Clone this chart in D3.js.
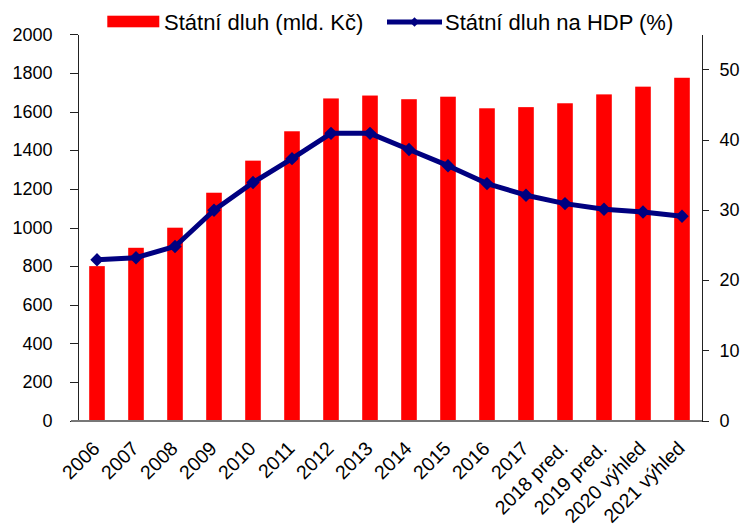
<!DOCTYPE html>
<html>
<head>
<meta charset="utf-8">
<script src="https://cdn.jsdelivr.net/npm/d3@7"></script>
<style>
  body { margin: 0; background: #fff; }
  text { font-family: 'Liberation Sans', Arial, sans-serif; fill: #000; }
  .axis path, .axis line { shape-rendering: crispEdges; }
</style>
</head>
<body>
<svg id="chart" width="745" height="527"></svg>
<script>

// Data
const years = ['2006', '2007', '2008', '2009', '2010', '2011', '2012', '2013',
  '2014', '2015', '2016', '2017', '2018 pred.', '2019 pred.', '2020 výhled', '2021 výhled']
const debt_bn = [800, 895, 999, 1180, 1346, 1498, 1668, 1683,
  1664, 1677, 1617, 1623, 1643, 1689, 1729, 1775]
const debt_gdp = [22.9, 23.2, 24.8, 29.95, 33.9, 37.3, 40.9, 40.9,
  38.6, 36.3, 33.75, 32.1, 30.9, 30.1, 29.7, 29.1]
const left_ticks = [0, 200, 400, 600, 800, 1000, 1200, 1400, 1600, 1800, 2000]
const right_ticks = [0, 10, 20, 30, 40, 50]
const legend_labels = ['Státní dluh (mld. Kč)', 'Státní dluh na HDP (%)']

const margin = { left: 77.5, right: 701.5, top: 34.3, bottom: 420.7 }
const red = '#ff0000'
const navy = '#000080'

let svg = d3.select('#chart')

// Scales
let x = d3.scaleBand()
  .domain(years)
  .range([margin.left, margin.right])
  .paddingInner(0.6)
  .paddingOuter(0.3)

let y_left = d3.scaleLinear()
  .domain([0, 2000])
  .range([margin.bottom, margin.top])

let y_right = d3.scaleLinear()
  .domain([0, 55])
  .range([margin.bottom, margin.top])

// Bars
svg.append('g')
  .selectAll('rect')
  .data(debt_bn)
  .enter()
  .append('rect')
    .attr('x', (d, i) => x(years[i]))
    .attr('y', d => y_left(d))
    .attr('width', x.bandwidth())
    .attr('height', d => y_left(0) - y_left(d))
    .attr('fill', red)

// Left axis
let left_axis = svg.append('g')
  .attr('class', 'axis')
  .attr('transform', `translate(${margin.left},0)`)
  .call(d3.axisLeft(y_left).tickValues(left_ticks).tickFormat(d3.format('d'))
    .tickSize(8).tickPadding(17).tickSizeOuter(0))
left_axis.selectAll('path, line').attr('stroke', '#222')
left_axis.selectAll('text').style('font-size', '18px')

// Right axis
let right_axis = svg.append('g')
  .attr('class', 'axis')
  .attr('transform', `translate(${margin.right},0)`)
  .call(d3.axisRight(y_right).tickValues(right_ticks).tickFormat(d3.format('d'))
    .tickSize(7).tickPadding(11).tickSizeOuter(0))
right_axis.selectAll('path, line').attr('stroke', '#222')
right_axis.selectAll('text').style('font-size', '18px')

// Bottom axis
let bottom_axis = svg.append('g')
  .attr('class', 'axis')
  .attr('transform', `translate(0,${margin.bottom})`)
  .call(d3.axisBottom(x).tickSize(0).tickPadding(0))
bottom_axis.select('.domain').remove()
bottom_axis.append('line')
  .attr('x1', margin.left - 7)
  .attr('x2', margin.right)
  .attr('stroke', '#777')
  .attr('stroke-width', 2)
bottom_axis.selectAll('text')
  .style('font-size', '19.5px')
  .attr('text-anchor', 'end')
  .attr('dy', 0)
  .attr('transform', 'translate(4,29) rotate(-45)')

// Line
let line = d3.line()
  .x((d, i) => x(years[i]) + x.bandwidth() / 2)
  .y(d => y_right(d))

svg.append('path')
  .datum(debt_gdp)
  .attr('d', line)
  .attr('fill', 'none')
  .attr('stroke', navy)
  .attr('stroke-width', 5)
  .attr('stroke-linejoin', 'round')

let diamond = d3.symbol().type(d3.symbolSquare).size(90)

svg.append('g')
  .selectAll('path')
  .data(debt_gdp)
  .enter()
  .append('path')
    .attr('d', diamond)
    .attr('fill', navy)
    .attr('transform', (d, i) => {
      let cx = x(years[i]) + x.bandwidth() / 2
      return `translate(${cx},${y_right(d)}) rotate(45)`
    })

// Legend
let legend = svg.append('g')
legend.append('rect')
  .attr('x', 107.3)
  .attr('y', 15.7)
  .attr('width', 52)
  .attr('height', 11.6)
  .attr('fill', red)
legend.append('text')
  .attr('x', 164)
  .attr('y', 29.5)
  .style('font-size', '22px')
  .text(legend_labels[0])
legend.append('line')
  .attr('x1', 387)
  .attr('x2', 442)
  .attr('y1', 22)
  .attr('y2', 22)
  .attr('stroke', navy)
  .attr('stroke-width', 5)
legend.append('path')
  .attr('d', d3.symbol().type(d3.symbolSquare).size(45))
  .attr('fill', navy)
  .attr('transform', 'translate(414.5,22) rotate(45)')
legend.append('text')
  .attr('x', 445)
  .attr('y', 29.5)
  .style('font-size', '22px')
  .text(legend_labels[1])

</script>
</body>
</html>
